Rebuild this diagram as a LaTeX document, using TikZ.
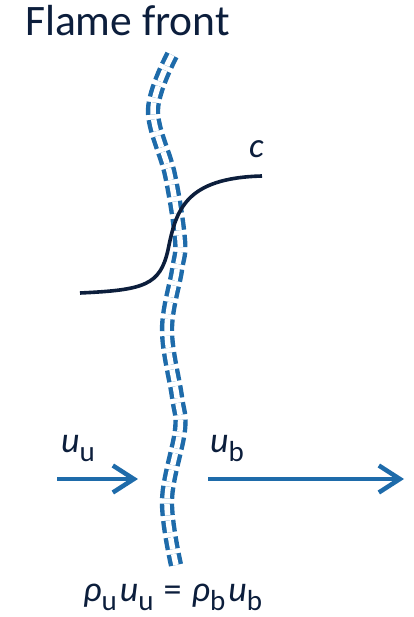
\documentclass[tikz,border=0pt]{standalone}
\usepackage{fontspec}
\setmainfont{Carlito}
\usepackage{xcolor}
\usepackage{tikz}
\usetikzlibrary{arrows.meta,positioning,calc}

\definecolor{frontblue}{RGB}{30,107,170}
\definecolor{navy}{RGB}{12,30,60}

\newcommand{\lsub}[1]{\raisebox{-9pt}{\fontsize{29}{29}\selectfont #1}}

\begin{document}
\begin{tikzpicture}[
    x=1pt, y=-1pt,
    front/.style={
        draw=frontblue, line width=4.4pt,
        double=white, double distance=5.5pt,
        dash pattern=on 12pt off 5pt
    },
    scurve/.style={draw=navy, line width=3.6pt},
    arr/.style={-{Straight Barb[length=21pt, width=27pt]}, line width=4.5pt, color=frontblue},
    lbl/.style={anchor=base west, inner sep=0pt, text=navy, font=\fontsize{36}{36}\selectfont},
]
\useasboundingbox (0,0) rectangle (414,617);

\node[lbl, font=\fontsize{43.5}{43.5}\selectfont] (title) at (25,36) {Flame front};

% flame front
\draw[front] plot[smooth, tension=0.6] coordinates {
  (172,55) (153,110) (170,175) (180,240) (177,270) (167,330)
  (177,397) (180,430) (167,500) (176,565)};

% progress variable
\draw[scurve] (80,293) .. controls (145,290) and (160,285) .. (168,250)
  .. controls (176,210) and (185,178) .. (262,176);
\node[lbl, font=\fontsize{35}{35}\selectfont\itshape] (cl) at (249,158) {c};

% velocities
\coordinate (uin0) at (57,479);
\coordinate (uin1) at (138,479);
\coordinate (uout0) at (208,479);
\coordinate (uout1) at (404,479);
\draw[arr] (uin0) -- (uin1);
\draw[arr] (uout0) -- (uout1);

\node[lbl] (uu) at (61,452) {\textit{u}\lsub{u}};
\node[lbl] (ub) at (210,452) {\textit{u}\lsub{b}};

\node[lbl] (mass) at (83,601) {\textit{ρ}\lsub{u}\kern3pt\textit{u}\lsub{u}\kern2pt{} = \kern2pt\textit{ρ}\lsub{b}\kern3pt\textit{u}\lsub{b}};

\end{tikzpicture}
\end{document}
